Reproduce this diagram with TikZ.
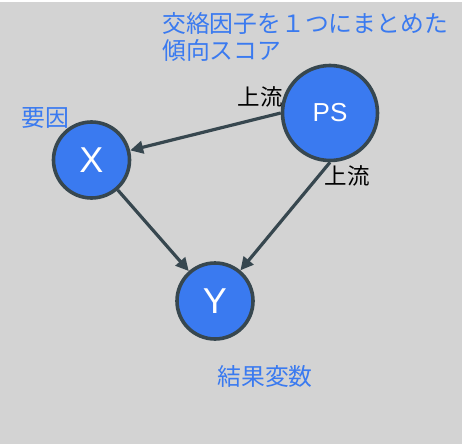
\documentclass[tikz,border=0pt]{standalone}
\usepackage{fontspec}
\setmainfont{Liberation Sans}
\newfontfamily\jpfont{Noto Sans CJK JP}
\usetikzlibrary{arrows.meta,positioning}
\definecolor{nodeblue}{HTML}{3A7AF0}
\definecolor{edgegray}{HTML}{37474F}
\definecolor{bggray}{HTML}{D3D3D3}

\begin{document}
\begin{tikzpicture}[x=1pt, y=-1pt,
    var/.style={circle, draw=edgegray, fill=nodeblue, line width=3.6pt, inner sep=0pt, text=white},
    arr/.style={-{Triangle[length=13pt,width=12.5pt]}, edgegray, line width=3.2pt},
    note/.style={font=\jpfont\fontsize{23.8}{27}\selectfont, text=nodeblue, inner sep=0pt},
    up/.style={font=\jpfont\fontsize{22.5}{26}\selectfont, inner sep=0pt},
]
\useasboundingbox (0,0) rectangle (470,444);
\fill[bggray] (0,2) rectangle (462,444);
% variables
\node[var, minimum size=76pt, font=\fontsize{36}{40}\selectfont] (x) at (91.5,160) {X};
\node[var, minimum size=95pt, font=\fontsize{26}{30}\selectfont] (ps) at (330,113) {PS};
\node[var, minimum size=76pt, font=\fontsize{36}{40}\selectfont] (y) at (215,301) {Y};
% edges
\draw[arr] (ps.west) -- (x);
\draw[arr] (ps.south) -- (y);
\draw[arr] (x) -- (y);
% labels
\node[note, anchor=north west, align=left] (ttl) at (162,12) {交絡因子を１つにまとめた\\傾向スコア};
\node[note] (lblx) at (45,118) {要因};
\node[note] (lbly) at (265,376) {結果変数};
\node[up] (up1) at (260,97) {上流};
\node[up] (up2) at (347,176) {上流};
\end{tikzpicture}
\end{document}
